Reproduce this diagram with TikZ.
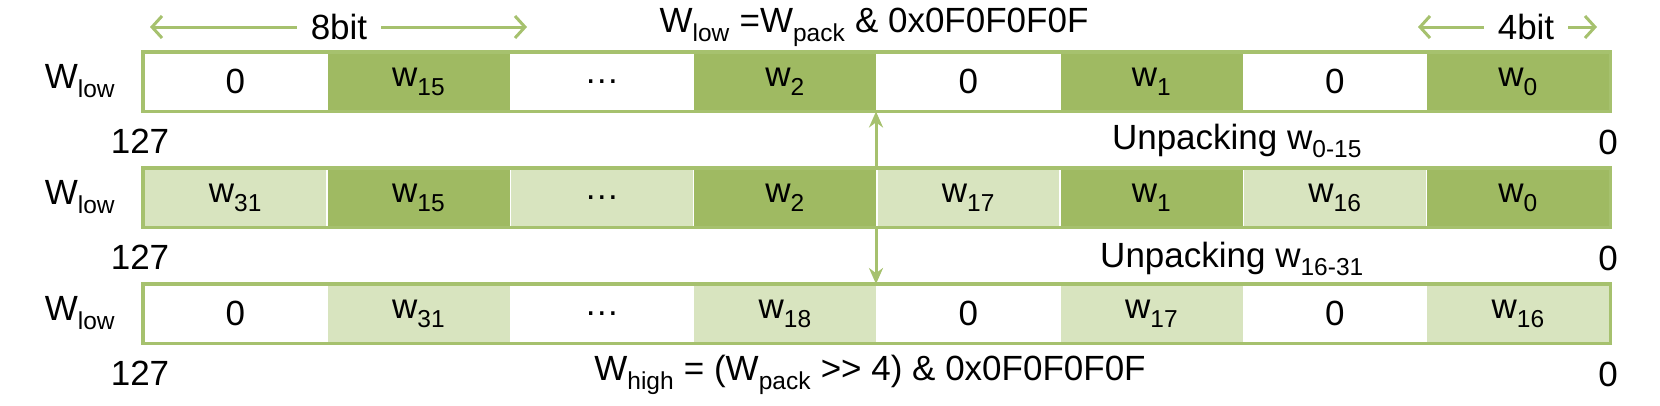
\documentclass[tikz,border=0pt]{standalone}
\usepackage{fontspec}
\setmainfont{Liberation Sans}
\usetikzlibrary{arrows.meta,positioning}
\definecolor{dk}{HTML}{9FBA62}
\definecolor{lt}{HTML}{D8E4BF}
\definecolor{wt}{HTML}{FFFFFF}
\definecolor{ln}{HTML}{A6C16E}
\tikzset{>={Stealth[length=16pt,width=14pt]}}
\newcommand{\sbx}[1]{\textsubscript{#1}}

\begin{document}
\begin{tikzpicture}[x=1pt,y=-1pt,
    every node/.style={font=\fontsize{35}{38}\selectfont},
    cell/.style={anchor=north west,minimum width=183.25pt,minimum height=58pt,
      inner sep=0pt,draw=white,line width=1.5pt},
    frame/.style={draw=ln,line width=3.5pt},
    link/.style={draw=ln,line width=3pt},
    span/.style={draw=ln,line width=3pt,-{Straight Barb[length=10pt,width=22pt]}}]
  \useasboundingbox (0,0) rectangle (1660,405);
  % three rows of cells
  \foreach \row/\y/\cells in {
      1/52/{0/wt,{w\sbx{15}}/dk,{\dots}/wt,{w\sbx{2}}/dk,0/wt,{w\sbx{1}}/dk,0/wt,{w\sbx{0}}/dk},
      2/168/{{w\sbx{31}}/lt,{w\sbx{15}}/dk,{\dots}/lt,{w\sbx{2}}/dk,{w\sbx{17}}/lt,{w\sbx{1}}/dk,{w\sbx{16}}/lt,{w\sbx{0}}/dk},
      3/284/{0/wt,{w\sbx{31}}/lt,{\dots}/wt,{w\sbx{18}}/lt,0/wt,{w\sbx{17}}/lt,0/wt,{w\sbx{16}}/lt}} {
    \foreach \lab/\col [count=\i] in \cells
      \node[cell,fill=\col] (r\row c\i) at ({143+(\i-1)*183.25},\y) {\lab};
    \draw[frame] (r\row c1.north west) rectangle (r\row c8.south east);
    \node (w\row) at (80,\y+29) {W\sbx{low}};
    \node (h\row) at (140,\y+89) {127};
    \node (z\row) at (1608,\y+90) {0};
  }
  % arrows between rows
  \draw[link,->] (r2c5.north west) -- (r1c5.south west);
  \draw[link,->] (r2c5.south west) -- (r3c5.north west);
  % labels
  \node[inner xsep=14pt] (b8) at (339,27) {8bit};
  \coordinate (b8l) at (150,27);
  \coordinate (b8r) at (527,27);
  \draw[span] (b8.west) -- (b8l);
  \draw[span] (b8.east) -- (b8r);
  \node[inner xsep=14pt] (b4) at (1526,27) {4bit};
  \coordinate (b4l) at (1418,27);
  \coordinate (b4r) at (1597,27);
  \draw[span] (b4.west) -- (b4l);
  \draw[span] (b4.east) -- (b4r);
  \node (top) at (874,27) {W\sbx{low} =W\sbx{pack} \& 0x0F0F0F0F};
  \node (u1) at (1237,141) {Unpacking w\sbx{0-15}};
  \node (u2) at (1232,259) {Unpacking w\sbx{16-31}};
  \node (bot) at (870,375) {W\sbx{high} = (W\sbx{pack} {>}{>} 4) \& 0x0F0F0F0F};
\end{tikzpicture}
\end{document}
